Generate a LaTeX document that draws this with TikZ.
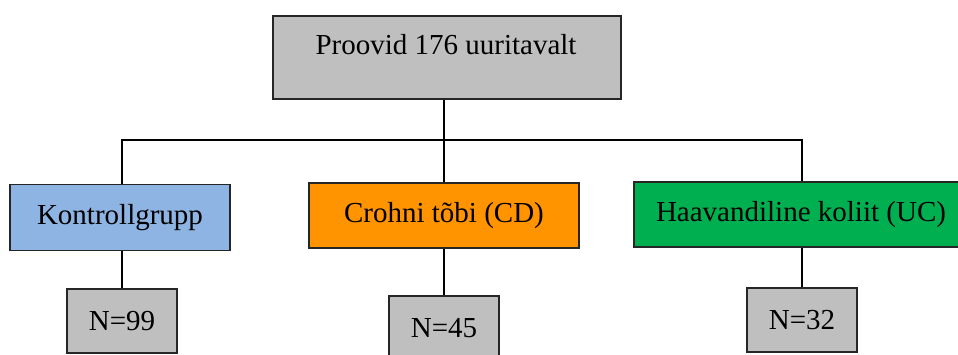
\documentclass[tikz,border=0pt]{standalone}
\usepackage{fontspec}
\setmainfont{Liberation Serif}
\definecolor{boxgray}{HTML}{BFBFBF}
\definecolor{boxblue}{HTML}{8EB4E3}
\definecolor{boxorange}{HTML}{FF9300}
\definecolor{boxgreen}{HTML}{00B050}
\begin{document}
\begin{tikzpicture}[x=1pt,y=-1pt,
  box/.style={draw=black!85, line width=1.2pt, rectangle, inner sep=0pt, anchor=center,
    font=\fontsize{29}{34}\selectfont},
  conn/.style={draw=black, line width=1.6pt}]
\path[use as bounding box] (0,0) rectangle (958,354);
\clip (0,0) rectangle (958,354);
% boxes
\node[box, fill=boxgray, minimum width=348pt, minimum height=83pt] (top) at (447,57.5) {};
\node[font=\fontsize{29}{34}\selectfont, inner sep=0pt] (toptext) at (446,45) {Proovid 176 uuritavalt};
\node[box, fill=boxblue, minimum width=220pt, minimum height=66pt] (k) at (120,217.5) {Kontrollgrupp};
\node[box, fill=boxorange, minimum width=270pt, minimum height=65pt] (cd) at (444,215.5) {Crohni tõbi (CD)};
\node[box, fill=boxgreen, minimum width=334pt, minimum height=65pt] (uc) at (801,214.5) {Haavandiline koliit (UC)};
\node[box, fill=boxgray, minimum width=110pt, minimum height=64pt] (n99) at (122,321) {N=99};
\node[box, fill=boxgray, minimum width=110pt, minimum height=64pt] (n45) at (444,328) {N=45};
\node[box, fill=boxgray, minimum width=110pt, minimum height=64pt] (n32) at (802,320) {N=32};
% connectors
\coordinate (hl) at (122,140);
\draw[conn] (cd.north |- top.south) -- (cd.north);
\draw[conn] (n99.north |- k.north) -- (n99.north |- hl) -- (n32.north |- hl) -- (n32.north |- uc.north);
\draw[conn] (n99.north |- k.south) -- (n99.north);
\draw[conn] (n45.north |- cd.south) -- (n45.north);
\draw[conn] (n32.north |- uc.south) -- (n32.north);
\end{tikzpicture}
\end{document}
